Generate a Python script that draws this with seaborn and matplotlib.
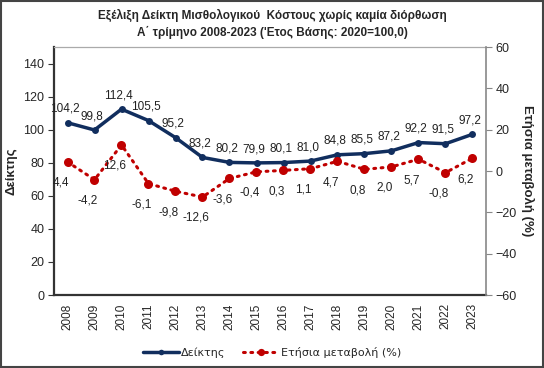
import matplotlib
matplotlib.use("Agg")
import matplotlib.pyplot as plt
import seaborn as sns
import pandas as pd
from matplotlib.patches import Rectangle

years = ["2008", "2009", "2010", "2011", "2012", "2013", "2014", "2015",
         "2016", "2017", "2018", "2019", "2020", "2021", "2022", "2023"]
index_vals = [104.2, 99.8, 112.4, 105.5, 95.2, 83.2, 80.2, 79.9,
              80.1, 81.0, 84.8, 85.5, 87.2, 92.2, 91.5, 97.2]
change_vals = [4.4, -4.2, 12.6, -6.1, -9.8, -12.6, -3.6, -0.4,
               0.3, 1.1, 4.7, 0.8, 2.0, 5.7, -0.8, 6.2]

title = "Εξέλιξη Δείκτη Μισθολογικού  Κόστους χωρίς καμία διόρθωση\nΑ΄ τρίμηνο 2008-2023 ('Ετος Βάσης: 2020=100,0)"
left_label = "Δείκτης"
right_label = "Ετήσια μεταβολή (%)"
legend_labels = ["Δείκτης", "Ετήσια μεταβολή (%)"]

sns.set_theme(style="white")
plt.rcParams['font.family'] = ['Liberation Sans', 'DejaVu Sans']

navy = "#112E5E"
red = "#C00000"

df = pd.DataFrame({"pos": range(len(years)), "year": years,
                   "index": index_vals, "change": change_vals})

fig = plt.figure(figsize=(5.44, 3.68), dpi=100)
ax = fig.add_axes([54/544, 1-295/368, (486-54)/544, (295-47)/368])
ax2 = ax.twinx()

sns.lineplot(data=df, x="pos", y="index", ax=ax, color=navy, linewidth=2.5,
             marker="o", markersize=5, markeredgewidth=0, zorder=3)
sns.lineplot(data=df, x="pos", y="change", ax=ax2, color=red, linewidth=2.2,
             linestyle=(0, (0.6, 1.8)), dash_capstyle="round",
             marker="o", markersize=6.5, markeredgewidth=0, zorder=3)

ax.set_xlim(-0.5, len(years) - 0.5)
ax.set_ylim(0, 150)
ax.set_yticks(range(0, 141, 20))
ax2.set_ylim(-60, 60)
ax2.set_yticks(range(-60, 61, 20))

ax.set_xticks(range(len(years)))
ax.set_xticklabels(years, rotation=90, fontsize=8.5)
ax.tick_params(axis="x", length=0, pad=6)
ax.set_xticks([i - 0.5 for i in range(len(years) + 1)], minor=True)
ax.tick_params(axis="x", which="minor", length=4, width=0.8, color="#333333", direction="out")
ax.tick_params(axis="y", length=4, width=0.8, color="#333333", direction="out", labelsize=9, pad=3)
ax2.tick_params(axis="y", length=4, width=0.8, color="#888888", direction="out", labelsize=9, pad=3)

ax.set_xlabel("")
ax.set_ylabel(left_label, fontsize=9.5, fontweight="bold", labelpad=4)
ax2.set_ylabel(right_label, fontsize=9.5, fontweight="bold", rotation=270, labelpad=12)

for a in (ax, ax2):
    a.grid(False)
ax.spines["left"].set_color("#333333")
ax.spines["left"].set_linewidth(1.6)
ax.spines["bottom"].set_color("#333333")
ax.spines["bottom"].set_linewidth(1.6)
ax.spines["top"].set_color("#AAAAAA")
ax.spines["top"].set_linewidth(0.9)
ax2.spines["right"].set_color("#888888")
ax2.spines["right"].set_linewidth(1.2)
ax2.spines["left"].set_visible(False)
ax2.spines["bottom"].set_visible(False)
ax2.spines["top"].set_visible(False)
ax.spines["right"].set_visible(False)

def fmt(v):
    return f"{v:.1f}".replace(".", ",")

for i, v in enumerate(index_vals):
    ax.annotate(fmt(v), (i, v), xytext=(-2, 10), textcoords="offset points",
                ha="center", va="center", fontsize=8.5, color="#222222")
for i, v in enumerate(change_vals):
    ax2.annotate(fmt(v), (i, v), xytext=(-5, -15), textcoords="offset points",
                 ha="center", va="center", fontsize=8.5, color="#222222")

fig.text(272/544, 1-15/368, title.split("\n")[0], ha="center", va="center",
         fontsize=8.5, fontweight="bold")
fig.text(272/544, 1-32/368, title.split("\n")[1], ha="center", va="center",
         fontsize=8.5, fontweight="bold")

h1 = ax.get_lines()[0]
h2 = ax2.get_lines()[0]
leg = fig.legend([h1, h2], legend_labels, loc="center", bbox_to_anchor=(272/544, 1-352/368),
                 ncol=2, frameon=False, handlelength=3.2, columnspacing=1.6,
                 handletextpad=0.2, markerscale=0.8,
                 prop={"family": ["DejaVu Sans"], "size": 8})

fig.patches.append(Rectangle((1/544, 1/368), 542/544, 366/368, transform=fig.transFigure,
                             fill=False, edgecolor="#444444", linewidth=1.5))

fig.savefig("out.png", dpi=100)
